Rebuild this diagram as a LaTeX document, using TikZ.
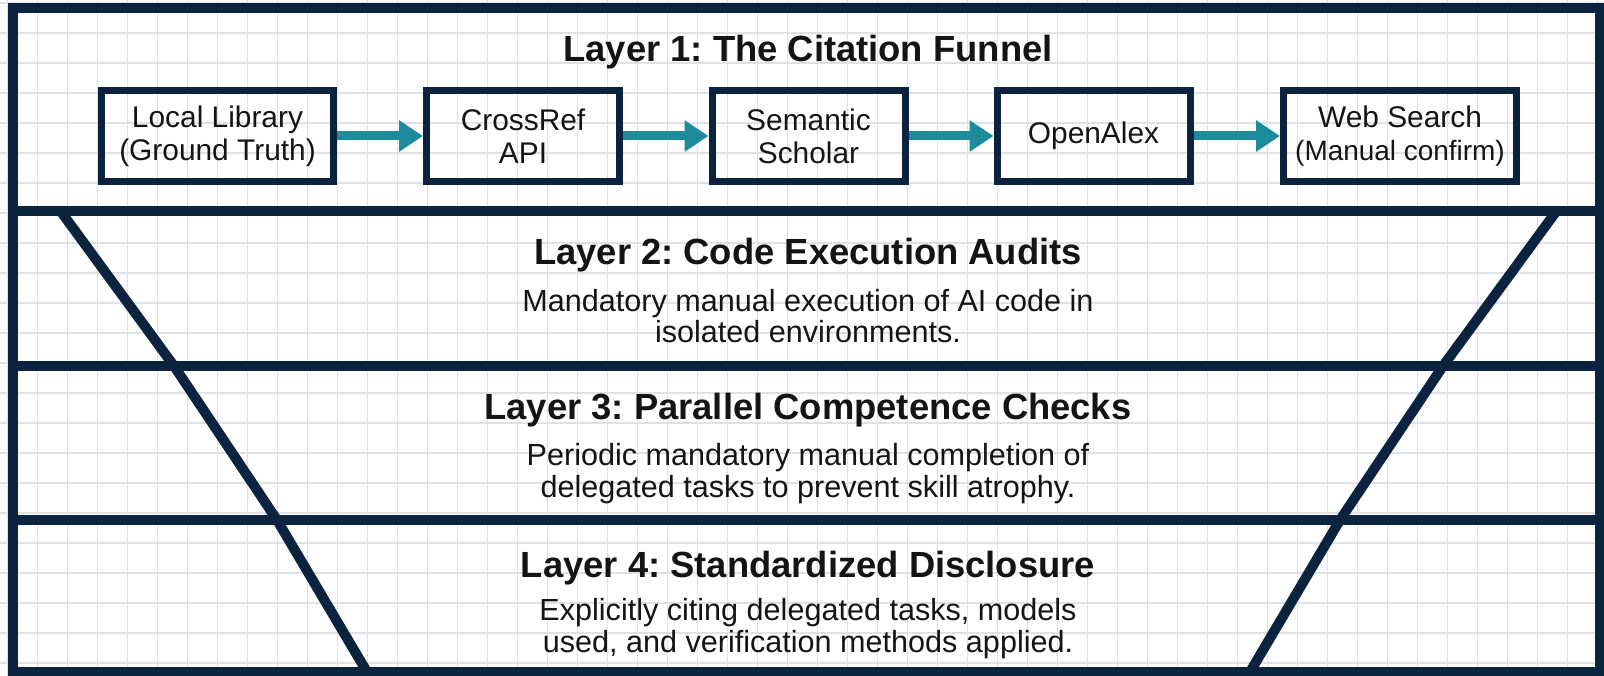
\documentclass[tikz,border=0pt]{standalone}
\usepackage{fontspec}
\setmainfont{Liberation Sans}
\usetikzlibrary{arrows.meta}
\frenchspacing

\definecolor{framenavy}{HTML}{0C2340}
\definecolor{flowteal}{HTML}{1C8C9C}
\definecolor{gridgray}{HTML}{DEE2E6}
\definecolor{inkblack}{HTML}{141414}

\begin{document}
\begin{tikzpicture}[
  text=inkblack,
  frame/.style={draw=framenavy, line width=0.2cm},
  gridline/.style={draw=gridgray, line width=0.6pt, step=0.6},
  box/.style={draw=framenavy, line width=0.14cm, align=center, inner sep=2pt,
    minimum height=1.82cm, font=\fontsize{17}{18.7}\selectfont},
  title/.style={anchor=base, font=\fontsize{20.7}{24}\selectfont\bfseries},
  desc/.style={align=center, font=\fontsize{17.4}{18.1}\selectfont},
  arr/.style={-{Triangle[length=0.48cm, width=0.6cm]}, draw=flowteal, line width=0.18cm},
]
  % page + background grid
  \useasboundingbox[fill=white] (0,0) rectangle (32.08,13.52);
  \draw[gridline, shift={(0.15,0.26)}] (-0.6,-0.6) grid (32.4,13.8);

  % ===== outer frame, layer bands, funnel walls =====
  \draw[frame] (0.25,0.08) rectangle (32.0,13.36);
  \draw[frame] (0.25,9.30) -- (32.0,9.30);
  \draw[frame] (0.25,6.20) -- (32.0,6.20);
  \draw[frame] (0.25,3.12) -- (32.0,3.12);

  \draw[frame, line join=round] (1.21,9.30) -- (3.48,6.20) -- (5.54,3.12) -- (7.34,0.08);
  \draw[frame, line join=round] (31.13,9.30) -- (28.86,6.20) -- (26.80,3.12) -- (25.0,0.08);

  % ===== Layer 1 =====
  \node[title] (t1) at (16.16,12.28) {Layer 1: The Citation Funnel};

  \node[box, minimum width=4.64cm] (local) at (4.35,10.80) {Local Library\\(Ground Truth)};
  \node[box, minimum width=3.86cm] (crossref) at (10.46,10.80) {CrossRef\\API};
  \node[box, minimum width=3.86cm] (s2) at (16.17,10.80) {Semantic\\Scholar};
  \node[box, minimum width=3.86cm] (oalex) at (21.87,10.80) {OpenAlex};
  \node[box, minimum width=4.66cm] (web) at (28.00,10.80)
    {Web Search\\{\fontsize{15.9}{18}\selectfont (Manual confirm)}};

  \draw[arr] (local) -- (crossref);
  \draw[arr] (crossref) -- (s2);
  \draw[arr] (s2) -- (oalex);
  \draw[arr] (oalex) -- (web);

  % ===== Layer 2 =====
  \node[title] (t2) at (16.16,8.22) {Layer 2: Code Execution Audits};
  \node[desc] (d2) at (16.16,7.20)
    {Mandatory manual execution of AI code in\\isolated environments.};

  % ===== Layer 3 =====
  \node[title] (t3) at (16.16,5.12) {Layer 3: Parallel Competence Checks};
  \node[desc] (d3) at (16.16,4.04)
    {Periodic mandatory manual completion of\\delegated tasks to prevent skill atrophy.};

  % ===== Layer 4 =====
  \node[title] (t4) at (16.16,1.96) {Layer 4: Standardized Disclosure};
  \node[desc] (d4) at (16.16,0.94)
    {Explicitly citing delegated tasks, models\\used, and verification methods applied.};
\end{tikzpicture}
\end{document}
